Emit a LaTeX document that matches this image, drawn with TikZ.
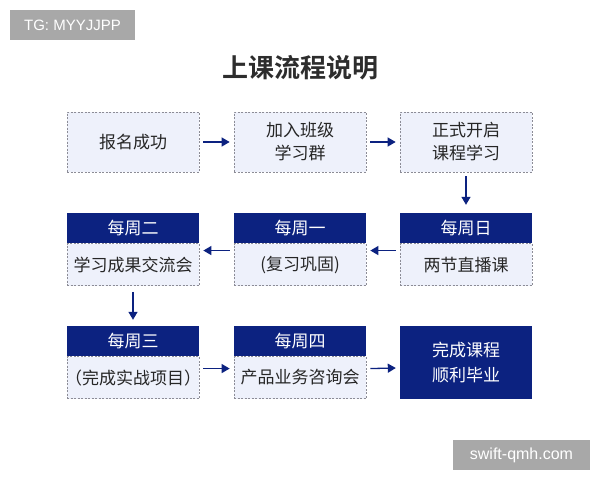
\documentclass[tikz,border=0pt]{standalone}
\usepackage{fontspec}
\setmainfont{Liberation Sans}
\newfontfamily\cjk{Noto Sans CJK SC}
\newfontfamily\cjkb{Noto Sans CJK SC}[BoldFont={Noto Sans CJK SC Bold}]
\usetikzlibrary{arrows.meta}
\definecolor{navy}{RGB}{12,34,128}
\definecolor{lightbg}{RGB}{238,241,251}
\definecolor{bordergray}{RGB}{140,140,150}
\definecolor{wmgray}{RGB}{168,168,168}
\definecolor{titlegray}{RGB}{45,45,45}
\tikzset{
  plainbox/.style={draw=bordergray,dash pattern=on 2pt off 1.5pt,line width=0.7pt,fill=lightbg,minimum width=132pt,minimum height=60pt,inner sep=0pt,align=center,font=\cjk\fontsize{17}{23}\selectfont,text=black!85},
  bodybox/.style={draw=bordergray,dash pattern=on 2pt off 1.5pt,line width=0.7pt,fill=lightbg,minimum width=132pt,minimum height=42pt,inner sep=0pt,align=center,font=\cjk\fontsize{17}{23}\selectfont,text=black!85},
  headbox/.style={fill=navy,minimum width=132pt,minimum height=30pt,inner sep=0pt,align=center,font=\cjk\fontsize{17}{23}\selectfont,text=white},
  finalbox/.style={fill=navy,minimum width=132pt,minimum height=73pt,inner sep=0pt,align=center,font=\cjk\fontsize{17}{25}\selectfont,text=white},
  flow/.style={draw=navy,line width=1.3pt,-{Triangle[length=8pt,width=9pt]}},
  wm/.style={fill=wmgray,text=white,inner sep=0pt,font=\fontsize{15}{18}\selectfont}
}
\begin{document}
\begin{tikzpicture}[x=1pt,y=-1pt]
\useasboundingbox[fill=white] (0,0) rectangle (600,480);
\node[wm,minimum width=125pt,minimum height=30pt] (tg) at (72.5,25) {TG: MYYJJPP};
\node[font=\cjkb\bfseries\fontsize{26}{30}\selectfont,text=titlegray] (title) at (300,68) {上课流程说明};
% row 1
\node[plainbox] (a1) at (133,142) {报名成功};
\node[plainbox] (a2) at (300,142) {加入班级\\学习群};
\node[plainbox] (a3) at (466,142) {正式开启\\课程学习};
% row 2
\node[headbox] (h3) at (466,228) {每周日};
\node[bodybox,anchor=north] (b3) at (h3.south) {两节直播课};
\node[headbox] (h2) at (300,228) {每周一};
\node[bodybox,anchor=north] (b2) at (h2.south) {(复习巩固)};
\node[headbox] (h1) at (133,228) {每周二};
\node[bodybox,anchor=north] (b1) at (h1.south) {学习成果交流会};
% row 3
\node[headbox] (g1) at (133,341) {每周三};
\node[bodybox,anchor=north] (c1) at (g1.south) {\makebox[0pt]{（完成实战项目）}};
\node[headbox] (g2) at (300,341) {每周四};
\node[bodybox,anchor=north] (c2) at (g2.south) {产品业务咨询会};
\node[finalbox] (fin) at (466,362.5) {完成课程\\顺利毕业};
% arrows
\draw[flow] ([xshift=4pt]a1.east) -- ([xshift=-4pt]a2.west);
\draw[flow] ([xshift=4pt]a2.east) -- ([xshift=-4pt]a3.west);
\draw[flow] ([yshift=-4pt]a3.south) -- ([yshift=8pt]h3.north);
\draw[flow] ([xshift=-4pt,yshift=14pt]b3.west) -- ([xshift=4pt,yshift=14pt]b2.east);
\draw[flow] ([xshift=-4pt,yshift=14pt]b2.west) -- ([xshift=4pt,yshift=14pt]b1.east);
\draw[flow] ([yshift=-6pt]b1.south) -- ([yshift=6pt]g1.north);
\draw[flow] ([xshift=4pt,yshift=9pt]c1.east) -- ([xshift=-4pt,yshift=9pt]c2.west);
\draw[flow] ([xshift=4pt,yshift=9pt]c2.east) -- ([xshift=-4pt,yshift=-5.5pt]fin.west);
\node[wm,minimum width=137pt,minimum height=30pt,font=\fontsize{16}{18}\selectfont] (site) at (521.5,455) {swift-qmh.com};
\end{tikzpicture}
\end{document}
